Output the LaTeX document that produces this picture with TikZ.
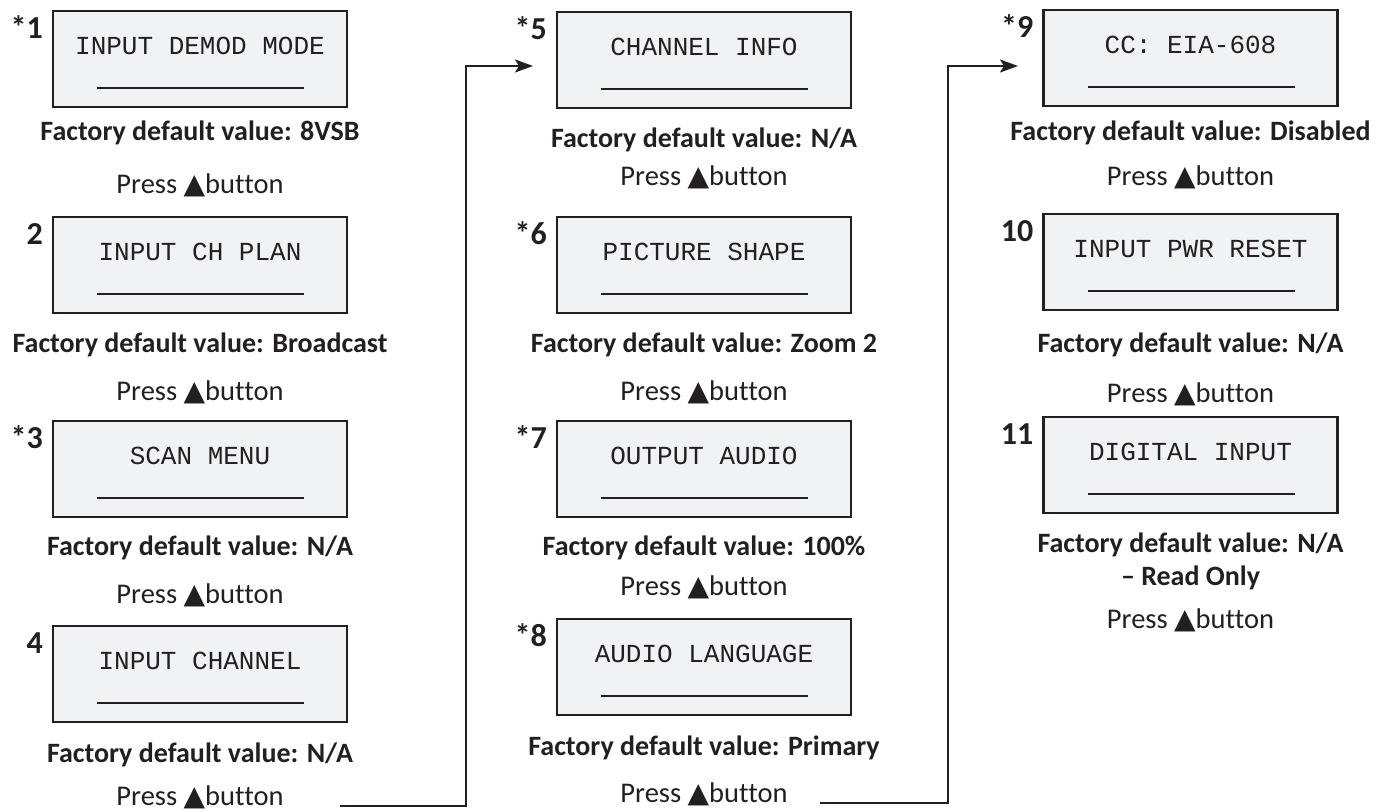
\documentclass[tikz,border=0pt]{standalone}
\usepackage{fontspec}
\setmainfont{Carlito}[Ligatures=NoCommon]
\newfontfamily\monof{Liberation Mono}
\newfontfamily\dvf{DejaVu Sans}
\usetikzlibrary{arrows.meta}
\definecolor{ink}{HTML}{231F20}
\definecolor{lcd}{HTML}{F1F2F3}
\tikzset{
 lcdbox/.style={draw=ink, fill=lcd, line width=2.5pt, minimum width=294pt, minimum height=96pt, anchor=north, inner sep=0pt, outer sep=0pt},
 lcdtext/.style={font=\monof\fontsize{26}{30}\selectfont, text=ink, anchor=base, inner sep=0pt},
 numlabel/.style={font=\bfseries\fontsize{32}{36}\selectfont, text=ink, anchor=base east, inner sep=0pt},
 deftext/.style={font=\bfseries\fontsize{28}{33}\selectfont, text=ink, anchor=base, inner sep=0pt},
 presstext/.style={font=\fontsize{28.5}{33}\selectfont, text=ink, anchor=base, inner sep=0pt},
 uline/.style={draw=ink, line width=1.5pt},
 flow/.style={draw=ink, line width=2pt, -{Stealth[length=18pt,width=13pt,inset=4pt]}},
}
\newcommand\tri{{\dvf\fontsize{28}{33}\selectfont ▲}}
\newcommand\lcditem[5]{%
 \node[lcdbox] (#1) at (#2,#3) {};
 \node[lcdtext] (#1t) at ([shift={(0,43)}]#1.north) {#5};
 \node[numlabel] (#1n) at ([shift={(-10,27)}]#1.north west) {#4};
 \draw[uline] ([shift={(44,77)}]#1.north west) -- ([shift={(251,77)}]#1.north west);
}
\begin{document}
\begin{tikzpicture}[x=1pt,y=-1pt]
\useasboundingbox (0,0) rectangle (1389,811);
% column 1
\lcditem{b1}{200}{11}{*1}{INPUT DEMOD MODE}
\node[deftext] (f1) at (200,140) {Factory default value: 8VSB};
\node[presstext] (p1) at (200,193) {Press \tri button};
\lcditem{b2}{200}{217}{2}{INPUT CH PLAN}
\node[deftext] (f2) at (200,352) {Factory default value: Broadcast};
\node[presstext] (p2) at (200,400) {Press \tri button};
\lcditem{b3}{200}{421}{*3}{SCAN MENU}
\node[deftext] (f3) at (200,555) {Factory default value: N/A};
\node[presstext] (p3) at (200,603) {Press \tri button};
\lcditem{b4}{200}{626}{4}{INPUT CHANNEL}
\node[deftext] (f4) at (200,762) {Factory default value: N/A};
\node[presstext] (p4) at (200,805) {Press \tri button};
% column 2
\lcditem{b5}{704}{12}{*5}{CHANNEL INFO}
\node[deftext] (f5) at (704,147) {Factory default value: N/A};
\node[presstext] (p5) at (704,185) {Press \tri button};
\lcditem{b6}{704}{217}{*6}{PICTURE SHAPE}
\node[deftext] (f6) at (704,352) {Factory default value: Zoom 2};
\node[presstext] (p6) at (704,400) {Press \tri button};
\lcditem{b7}{704}{421}{*7}{OUTPUT AUDIO}
\node[deftext] (f7) at (704,555) {Factory default value: 100\%};
\node[presstext] (p7) at (704,595) {Press \tri button};
\lcditem{b8}{704}{619}{*8}{AUDIO LANGUAGE}
\node[deftext] (f8) at (704,755) {Factory default value: Primary};
\node[presstext] (p8) at (704,802) {Press \tri button};
% column 3
\lcditem{b9}{1190.5}{10}{*9}{CC: EIA-608}
\node[deftext] (f9) at (1190.5,140) {Factory default value: Disabled};
\node[presstext] (p9) at (1190.5,185) {Press \tri button};
\lcditem{b10}{1190.5}{214}{10}{INPUT PWR RESET}
\node[deftext] (f10) at (1190.5,352) {Factory default value: N/A};
\node[presstext] (p10) at (1190.5,402) {Press \tri button};
\lcditem{b11}{1190.5}{417}{11}{DIGITAL INPUT}
\node[deftext] (f11) at (1190.5,552) {Factory default value: N/A};
\node[deftext] (r11) at (1190.5,585) {– Read Only};
\node[presstext] (p11) at (1190.5,628) {Press \tri button};
% connectors
\coordinate (c1s) at (340,806);
\coordinate (c1e) at (533,66);
\draw[flow] (c1s) -- ++(126,0) |- (c1e);
\coordinate (c2s) at (820,803);
\coordinate (c2e) at (1018,66);
\draw[flow] (c2s) -- ++(128,0) |- (c2e);
\end{tikzpicture}
\end{document}
